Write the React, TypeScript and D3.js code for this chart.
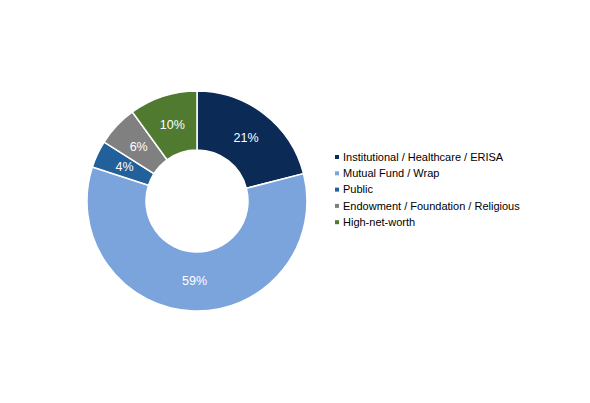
import React from "react";
import * as d3 from "d3";

const categories = [
  "Institutional / Healthcare / ERISA",
  "Mutual Fund / Wrap",
  "Public",
  "Endowment / Foundation / Religious",
  "High-net-worth",
];
const shares = [21, 59, 4, 6, 10];
const colors = ["#0c2a56", "#7ba3dc", "#21609a", "#808080", "#4f7a2f"];

const width = 590;
const height = 403;
const cx = 197;
const cy = 201;
const outerR = 110;
const innerR = 51;

const App: React.FC = () => {
  const pie = d3.pie<number>().sort(null).value((d) => d);
  const arcs = pie(shares);
  const arc = d3.arc<d3.PieArcDatum<number>>().innerRadius(innerR).outerRadius(outerR);
  const labelArc = d3.arc<d3.PieArcDatum<number>>().innerRadius(80).outerRadius(80);

  return (
    <svg
      width={width}
      height={height}
      style={{ position: "absolute", left: 0, top: 0, fontFamily: "Arial, 'Liberation Sans', sans-serif" }}
    >
      <rect width={width} height={height} fill="#fff" />
      <g transform={`translate(${cx},${cy})`}>
        {arcs.map((a, i) => (
          <path key={i} d={arc(a) || ""} fill={colors[i]} stroke="#fff" strokeWidth={1.5} />
        ))}
        {arcs.map((a, i) => {
          const [x, y] = labelArc.centroid(a);
          return (
            <text key={i} x={x} y={y} dy="0.35em" textAnchor="middle" fill="#fff" fontSize={12.5}>
              {shares[i]}%
            </text>
          );
        })}
      </g>
      <g transform="translate(337,157)">
        {categories.map((c, i) => (
          <g key={c} transform={`translate(0,${i * 16.3})`}>
            <rect x={-2} y={-2} width={4} height={4} fill={colors[i]} />
            <text x={6} dy="0.35em" fontSize={11} fill="#000">
              {c}
            </text>
          </g>
        ))}
      </g>
    </svg>
  );
};

export default App;
